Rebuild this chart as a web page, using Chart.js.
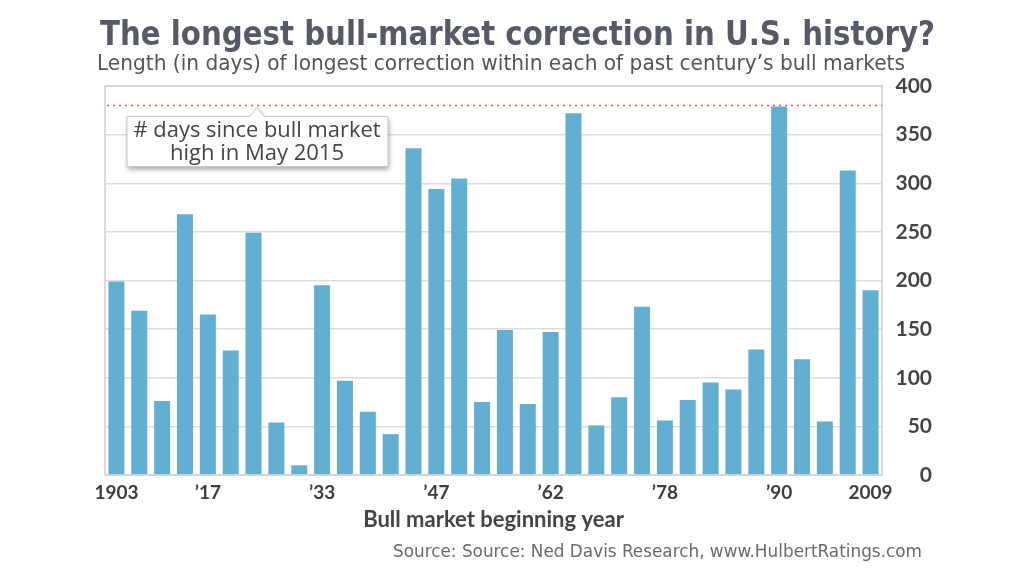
<!DOCTYPE html>
<html lang="en">
<head>
  <meta charset="UTF-8">
  <script src="https://cdn.jsdelivr.net/npm/chart.js"></script>
  <title>Longest bull-market correction</title>
  <style>
    html, body { margin: 0; padding: 0; background: #ffffff; }
    #wrap { width: 1024px; height: 577px; }
  </style>
</head>
<body>
<div id="wrap"><canvas id="myChart" width="1024" height="577"></canvas></div>
<script>
  // bull markets, first year of each (only some are labelled on the axis)
  var anos = ['1903', '', '', '', '\u201917', '', '', '', '', '\u201933',
              '', '', '', '', '\u201947', '', '', '', '', '\u201962',
              '', '', '', '', '\u201978', '', '', '', '', '\u201990',
              '', '', '', '2009']
  // longest correction (days) inside each bull market
  var dias = [199, 169, 76, 268, 165, 128, 249, 54, 10, 195,
              97, 65, 42, 336, 294, 305, 75, 149, 73, 147,
              372, 51, 80, 173, 56, 77, 95, 88, 129, 379,
              119, 55, 313, 190]
  var diasDesdeTopo = 380
  var ticksY = [0, 50, 100, 150, 200, 250, 300, 350, 400]

  var titulo = 'The longest bull-market correction in U.S. history?'
  var subtitulo = 'Length (in days) of longest correction within each of past century\u2019s bull markets'
  var fonte = 'Source: Source: Ned Davis Research, www.HulbertRatings.com'
  var nota = ['# days since bull market', 'high in May 2015']

  var condensada = "'Liberation Sans Narrow', 'DejaVu Sans Condensed', 'Roboto', sans-serif"

  // draws a line of text squeezed or stretched to an exact width
  function textoLargura(ctx, texto, x, y, largura) {
    var w = ctx.measureText(texto).width
    ctx.save()
    ctx.translate(x, y)
    ctx.scale(largura / w, 1)
    ctx.fillText(texto, 0, 0)
    ctx.restore()
  }

  // texts, frame, dashed line and callout box
  var extras = {
    id: 'extras',
    beforeDraw(chart) {
      var ctx = chart.ctx
      ctx.save()
      ctx.fillStyle = '#555a66'
      ctx.textBaseline = 'alphabetic'
      ctx.textAlign = 'left'
      ctx.font = 'bold 34px ' + condensada
      textoLargura(ctx, titulo, 100, 45, 835)
      ctx.fillStyle = '#555555'
      ctx.font = '21px ' + condensada
      textoLargura(ctx, subtitulo, 97, 70, 808)
      ctx.fillStyle = '#6a6a6a'
      ctx.font = '18px ' + condensada
      textoLargura(ctx, fonte, 393, 557, 529)
      ctx.restore()
    },
    afterDatasetsDraw(chart) {
      var ctx = chart.ctx
      var a = chart.chartArea
      var y = chart.scales.y
      ctx.save()
      // plot frame
      ctx.strokeStyle = '#cfcfcf'
      ctx.lineWidth = 1.5
      ctx.strokeRect(a.left, a.top, a.right - a.left, a.bottom - a.top)

      // red dotted line
      var yLinha = y.getPixelForValue(diasDesdeTopo)
      ctx.strokeStyle = '#e0575c'
      ctx.lineWidth = 1.5
      ctx.setLineDash([2, 4])
      ctx.beginPath()
      ctx.moveTo(a.left + 2, yLinha)
      ctx.lineTo(a.right, yLinha)
      ctx.stroke()
      ctx.setLineDash([])

      // callout
      var bx = a.left + 22, by = yLinha + 11, bw = 261, bh = 50
      var px = bx + 130
      ctx.shadowColor = 'rgba(0,0,0,0.35)'
      ctx.shadowBlur = 5
      ctx.shadowOffsetX = 1
      ctx.shadowOffsetY = 3
      ctx.fillStyle = '#ffffff'
      ctx.beginPath()
      ctx.moveTo(bx, by)
      ctx.lineTo(px - 7, by)
      ctx.lineTo(px, by - 9)
      ctx.lineTo(px + 7, by)
      ctx.lineTo(bx + bw, by)
      ctx.lineTo(bx + bw, by + bh)
      ctx.lineTo(bx, by + bh)
      ctx.closePath()
      ctx.fill()
      ctx.shadowColor = 'transparent'
      ctx.strokeStyle = '#c8c8c8'
      ctx.lineWidth = 1
      ctx.stroke()
      ctx.fillStyle = '#454545'
      ctx.font = '22px ' + "'Open Sans', sans-serif"
      ctx.textAlign = 'center'
      ctx.textBaseline = 'middle'
      ctx.fillText(nota[0], px, by + 14, bw - 14)
      ctx.fillText(nota[1], px, by + 37, bw - 14)
      ctx.restore()
    }
  }

  var ctx = document.getElementById('myChart')
  var myChart = new Chart(ctx, {
    type: 'bar',
    data: {
      labels: anos,
      datasets: [{
        label: 'Dias',
        data: dias,
        backgroundColor: '#62afd1',
        borderWidth: 0,
        barPercentage: 0.7,
        categoryPercentage: 1
      }]
    },
    options: {
      responsive: false,
      animation: false,
      layout: { padding: { left: 105, top: 86, right: 92, bottom: 44 } },
      plugins: {
        legend: { display: false },
        tooltip: { enabled: false }
      },
      scales: {
        x: {
          offset: true,
          grid: { display: false, drawTicks: false },
          border: { display: false },
          ticks: {
            autoSkip: false,
            maxRotation: 0,
            padding: 6,
            color: '#3d3d3d',
            font: { family: 'Lato', size: 19, weight: 'bold' }
          },
          title: {
            display: true,
            text: 'Bull market beginning year',
            color: '#444444',
            padding: { top: 4, bottom: 0 },
            font: { family: 'Lato', size: 22, weight: 'bold' }
          },
          afterFit(s) { s.height = 58 }
        },
        y: {
          position: 'right',
          min: 0,
          max: 400,
          afterBuildTicks(s) { s.ticks = ticksY.map(v => ({ value: v })) },
          grid: { color: '#dddddd', lineWidth: 1.5, drawTicks: false },
          border: { display: false },
          ticks: {
            crossAlign: 'far',
            padding: 5,
            color: '#444444',
            font: { family: 'Lato', size: 21, weight: 'bold' }
          },
          afterFit(s) { s.width = 50 }
        }
      }
    },
    plugins: [extras]
  })
</script>
</body>
</html>
